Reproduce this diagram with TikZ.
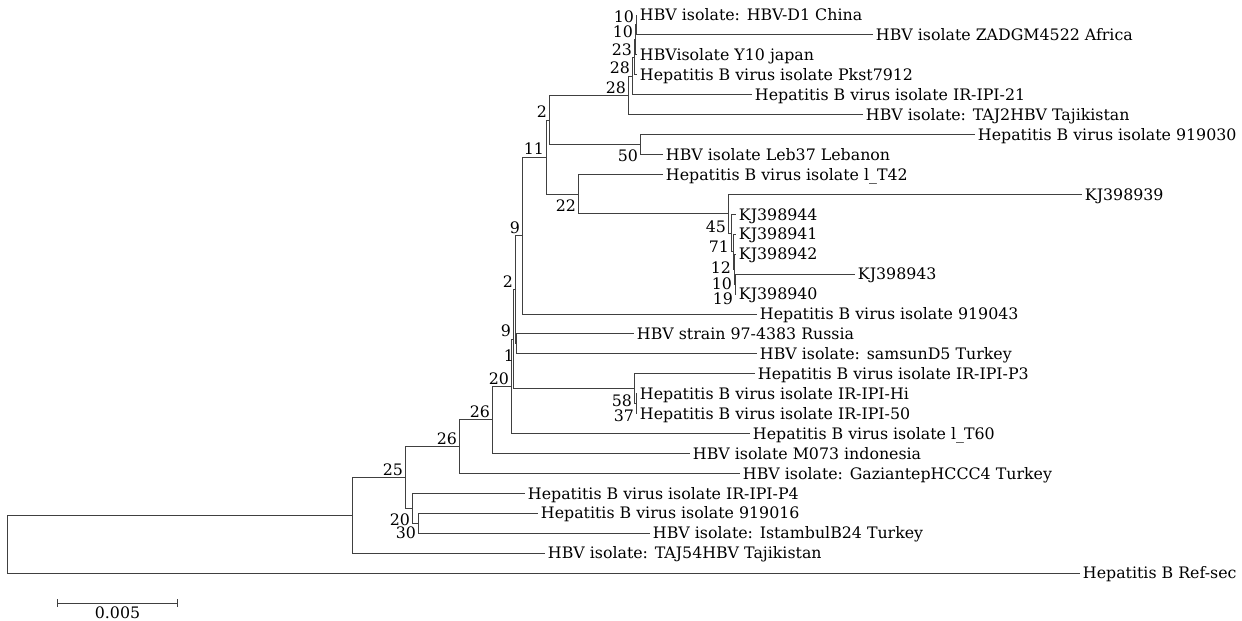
\documentclass[tikz,border=0pt]{standalone}
\usepackage{fontspec}
\setmainfont{DejaVu Serif}
\usetikzlibrary{arrows.meta}

\begin{document}
\begin{tikzpicture}[
            x=0.02cm, y=-0.02cm,
            branch/.style = {draw=black!75, line width=0.55pt},
            taxon/.style = {anchor=west, inner xsep=1.5pt, inner ysep=0pt, text height=6.6pt, text depth=0pt, font=\fontsize{9}{10}\selectfont},
            boot/.style = {inner sep=1pt, font=\fontsize{9}{10}\selectfont},
            bootlow/.style = {boot, below left, yshift=-2pt}
        ]
        \useasboundingbox (0,0) rectangle (1242,621);

        % Hojas del arbol
        \node [taxon] (china) at (637,15.0) {HBV isolate: HBV-D1 China};
        \node [taxon] (africa) at (873,34.9) {HBV isolate ZADGM4522 Africa};
        \node [taxon] (japan) at (637,54.9) {HBVisolate Y10 japan};
        \node [taxon] (pkst) at (637,74.8) {Hepatitis B virus isolate Pkst7912};
        \node [taxon] (ir21) at (752,94.7) {Hepatitis B virus isolate IR-IPI-21};
        \node [taxon] (taj2) at (863,114.7) {HBV isolate: TAJ2HBV Tajikistan};
        \node [taxon] (iso030) at (975,134.6) {Hepatitis B virus isolate 919030};
        \node [taxon] (leb37) at (663,154.5) {HBV isolate Leb37 Lebanon};
        \node [taxon] (lt42) at (663,174.4) {Hepatitis B virus isolate l\_T42};
        \node [taxon] (kj939) at (1082,194.4) {KJ398939};
        \node [taxon] (kj944) at (736,214.3) {KJ398944};
        \node [taxon] (kj941) at (736,234.2) {KJ398941};
        \node [taxon] (kj942) at (736,254.2) {KJ398942};
        \node [taxon] (kj943) at (855,274.1) {KJ398943};
        \node [taxon] (kj940) at (736,294.0) {KJ398940};
        \node [taxon] (iso043) at (757,314.0) {Hepatitis B virus isolate 919043};
        \node [taxon] (russia) at (634,333.9) {HBV strain 97-4383 Russia};
        \node [taxon] (samsun) at (757,353.8) {HBV isolate: samsunD5 Turkey};
        \node [taxon] (irp3) at (755,373.7) {Hepatitis B virus isolate IR-IPI-P3};
        \node [taxon] (irhi) at (637,393.7) {Hepatitis B virus isolate IR-IPI-Hi};
        \node [taxon] (ir50) at (637,413.6) {Hepatitis B virus isolate IR-IPI-50};
        \node [taxon] (lt60) at (750,433.5) {Hepatitis B virus isolate l\_T60};
        \node [taxon] (m073) at (690,453.5) {HBV isolate M073 indonesia};
        \node [taxon] (gaz) at (740,473.4) {HBV isolate: GaziantepHCCC4 Turkey};
        \node [taxon] (irp4) at (525,493.3) {Hepatitis B virus isolate IR-IPI-P4};
        \node [taxon] (iso016) at (538,513.2) {Hepatitis B virus isolate 919016};
        \node [taxon] (istambul) at (650,533.2) {HBV isolate: IstambulB24 Turkey};
        \node [taxon] (taj54) at (545,553.1) {HBV isolate: TAJ54HBV Tajikistan};
        \node [taxon] (refsec) at (1080,573.0) {Hepatitis B Ref-sec};

        % Nodos internos
        \coordinate (v) at (636,24.95);
        \coordinate (w) at (635,39.9);
        \coordinate (t) at (634,57.4);
        \coordinate (s) at (632,76.0);
        \coordinate (r) at (628,95.4);
        \coordinate (o) at (640,144.6);
        \coordinate (h) at (549,120.0);
        \coordinate (kx5) at (735,284.1);
        \coordinate (kx4) at (734,269.1);
        \coordinate (kx3) at (733,251.7);
        \coordinate (kx2) at (731,233.0);
        \coordinate (kx1) at (728,213.7);
        \coordinate (j) at (578,194.1);
        \coordinate (i) at (546,157.0);
        \coordinate (k) at (522,235.5);
        \coordinate (n) at (516,343.9);
        \coordinate (l) at (515,289.7);
        \coordinate (q) at (636,403.7);
        \coordinate (p) at (634,388.7);
        \coordinate (m) at (513,339.2);
        \coordinate (g) at (511,386.4);
        \coordinate (f) at (492,419.9);
        \coordinate (c) at (459,446.7);
        \coordinate (e) at (418,523.2);
        \coordinate (d) at (412,508.3);
        \coordinate (b) at (405,477.5);
        \coordinate (a) at (352,515.3);
        \coordinate (root) at (7,544.2);

        % Ramas
        \draw [branch] (v) |- (china.west);
        \draw [branch] (v) |- (africa.west);
        \draw [branch] (w) |- (v);
        \draw [branch] (w) |- (japan.west);
        \draw [branch] (t) |- (w);
        \draw [branch] (t) |- (pkst.west);
        \draw [branch] (s) |- (t);
        \draw [branch] (s) |- (ir21.west);
        \draw [branch] (r) |- (s);
        \draw [branch] (r) |- (taj2.west);
        \draw [branch] (o) |- (iso030.west);
        \draw [branch] (o) |- (leb37.west);
        \draw [branch] (h) |- (r);
        \draw [branch] (h) |- (o);
        \draw [branch] (kx5) |- (kj943.west);
        \draw [branch] (kx5) |- (kj940.west);
        \draw [branch] (kx4) |- (kj942.west);
        \draw [branch] (kx4) |- (kx5);
        \draw [branch] (kx3) |- (kj941.west);
        \draw [branch] (kx3) |- (kx4);
        \draw [branch] (kx2) |- (kj944.west);
        \draw [branch] (kx2) |- (kx3);
        \draw [branch] (kx1) |- (kj939.west);
        \draw [branch] (kx1) |- (kx2);
        \draw [branch] (j) |- (lt42.west);
        \draw [branch] (j) |- (kx1);
        \draw [branch] (i) |- (h);
        \draw [branch] (i) |- (j);
        \draw [branch] (k) |- (i);
        \draw [branch] (k) |- (iso043.west);
        \draw [branch] (n) |- (russia.west);
        \draw [branch] (n) |- (samsun.west);
        \draw [branch] (l) |- (k);
        \draw [branch] (l) |- (n);
        \draw [branch] (q) |- (irhi.west);
        \draw [branch] (q) |- (ir50.west);
        \draw [branch] (p) |- (irp3.west);
        \draw [branch] (p) |- (q);
        \draw [branch] (m) |- (l);
        \draw [branch] (m) |- (p);
        \draw [branch] (g) |- (m);
        \draw [branch] (g) |- (lt60.west);
        \draw [branch] (f) |- (g);
        \draw [branch] (f) |- (m073.west);
        \draw [branch] (c) |- (f);
        \draw [branch] (c) |- (gaz.west);
        \draw [branch] (e) |- (iso016.west);
        \draw [branch] (e) |- (istambul.west);
        \draw [branch] (d) |- (irp4.west);
        \draw [branch] (d) |- (e);
        \draw [branch] (b) |- (c);
        \draw [branch] (b) |- (d);
        \draw [branch] (a) |- (b);
        \draw [branch] (a) |- (taj54.west);
        \draw [branch] (root) |- (a);
        \draw [branch] (root) |- (refsec.west);

        % Valores de bootstrap
        \node [boot, above left] (bs-v) at (v) {10};
        \node [boot, above left] (bs-w) at (w) {10};
        \node [boot, above left] (bs-t) at (t) {23};
        \node [boot, above left] (bs-s) at (s) {28};
        \node [boot, above left] (bs-r) at (r) {28};
        \node [boot, above left] (bs-h) at (h) {2};
        \node [boot, above left] (bs-i) at (i) {11};
        \node [bootlow] (bs-o) at (o) {50};
        \node [bootlow] (bs-j) at (j) {22};
        \node [bootlow, yshift=-1pt] (bs-kx1) at (kx1) {45};
        \node [bootlow, yshift=-1.5pt] (bs-kx2) at (kx2) {71};
        \node [bootlow, yshift=-2.5pt] (bs-kx3) at (kx3) {12};
        \node [bootlow, yshift=-2pt] (bs-kx4) at (kx4) {10};
        \node [bootlow, yshift=-1.5pt] (bs-kx5) at (kx5) {19};
        \node [boot, above left] (bs-k) at (k) {9};
        \node [boot, above left] (bs-l) at (l) {2};
        \node [boot, above left] (bs-m) at (m) {9};
        \node [bootlow] (bs-n) at (n) {1};
        \node [bootlow] (bs-p) at (p) {58};
        \node [bootlow] (bs-q) at (q) {37};
        \node [boot, above left] (bs-g) at (g) {20};
        \node [boot, above left] (bs-f) at (f) {26};
        \node [boot, above left] (bs-c) at (c) {26};
        \node [boot, above left] (bs-b) at (b) {25};
        \node [bootlow] (bs-d) at (d) {20};
        \node [bootlow, yshift=1pt] (bs-e) at (e) {30};

        % Barra de escala
        \coordinate (bar-l) at (57,603);
        \coordinate (bar-r) at (178,603);
        \draw [branch, {Bar[width=4.5pt]}-{Bar[width=4.5pt]}] (bar-l) -- node[boot, below=1pt] (bar-txt) {0.005} (bar-r);

    \end{tikzpicture}
\end{document}
